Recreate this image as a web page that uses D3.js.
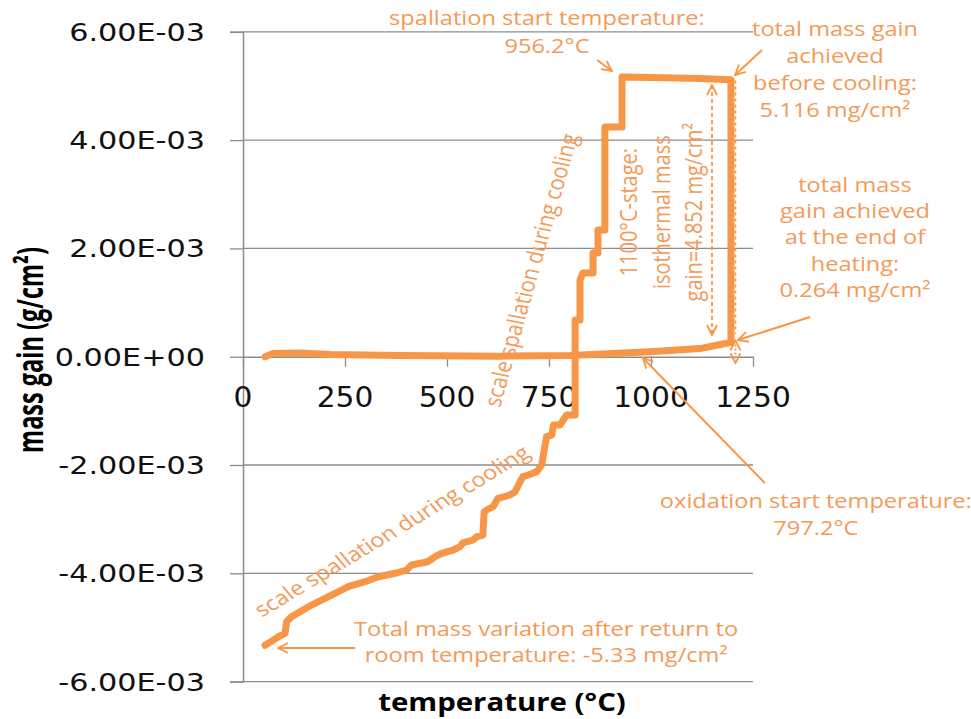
<!DOCTYPE html>
<html>
<head>
<meta charset="utf-8">
<script src="https://cdn.jsdelivr.net/npm/d3@7"></script>
<style>
  html, body { margin: 0; padding: 0; background: #ffffff; }
  svg { display: block; }
</style>
</head>
<body>
<div id="chart"></div>
<script>
// ---------------- data (temperature in °C, mass gain in mg/cm²) ----------------
const heatTemp = [54, 74, 140, 213, 385, 630, 801, 998, 1120, 1176, 1196];
const heatGain = [0, 0.06, 0.07, 0.04, 0.02, 0.01, 0.02, 0.09, 0.15, 0.235, 0.264];

const coolTemp = [1196, 1120, 998, 929, 929, 887, 887, 870, 870, 858,
                  858, 833, 826, 826, 814, 814, 793, 777, 761, 757,
                  744, 732, 720, 699, 686, 679, 667, 654, 625, 613,
                  597, 591, 588, 573, 564, 539, 532, 515, 487, 471,
                  453, 413, 401, 373, 332, 299, 258, 217, 168, 119,
                  107, 103, 87, 62, 54];
const coolGain = [5.116, 5.138, 5.156, 5.165, 4.242, 4.242, 2.340, 2.340, 1.915, 1.915,
                  1.546, 1.546, 1.416, 0.678, 0.678, -1.077, -1.077, -1.261, -1.261, -1.446,
                  -1.477, -2.000, -2.124, -2.185, -2.216, -2.308, -2.493, -2.554, -2.615, -2.770,
                  -2.831, -2.868, -3.293, -3.324, -3.385, -3.440, -3.509, -3.570, -3.631, -3.693,
                  -3.786, -3.847, -3.939, -4.000, -4.063, -4.155, -4.247, -4.401, -4.586, -4.801,
                  -4.894, -5.108, -5.171, -5.293, -5.33];

const xTicks = [0, 250, 500, 750, 1000, 1250];
const xTickLabels = ["0", "250", "500", "750", "1000", "1250"];
const yTicks = [-0.006, -0.004, -0.002, 0, 0.002, 0.004, 0.006];
const yTickLabels = ["-6.00E-03", "-4.00E-03", "-2.00E-03", "0.00E+00", "2.00E-03", "4.00E-03", "6.00E-03"];

// annotation texts (anchored in data units: temperature °C, mg/cm²)
const annSpall = ["spallation start temperature:", "956.2°C"];
const annBefore = ["total mass gain", "achieved", "before cooling:", "5.116 mg/cm²"];
const annIso = ["1100°C-stage:", "isothermal mass", "gain=4.852 mg/cm²"];
const annEndHeat = ["total mass", "gain achieved", "at the end of", "heating:", "0.264 mg/cm²"];
const annOx = ["oxidation start temperature:", "797.2°C"];
const annFinal = ["Total mass variation after return to", "room temperature: -5.33 mg/cm²"];
const annScale = "scale spallation during cooling";

// ---------------- layout ----------------
const W = 971, H = 719;
const ORANGE = "#F79646", TXT = "#F39A58", GRID = "#8c8c8c";
const x = d3.scaleLinear().domain([0, 1250]).range([243, 753]);
const y = d3.scaleLinear().domain([-0.006, 0.006]).range([681.6, 31.8]);
const ym = v => y(v / 1000);   // mg/cm² -> pixel

const svg = d3.select("#chart").append("svg").attr("width", W).attr("height", H);

const defs = svg.append("defs");
defs.append("marker").attr("id", "arr")
  .attr("viewBox", "0 0 12 12").attr("refX", 11).attr("refY", 6)
  .attr("markerWidth", 12).attr("markerHeight", 12)
  .attr("markerUnits", "userSpaceOnUse").attr("orient", "auto-start-reverse")
  .append("path").attr("d", "M1,1 L11,6 L1,11")
  .attr("fill", "none").attr("stroke", ORANGE).attr("stroke-width", 1.8);

// gridlines
svg.append("g").selectAll("line").data(yTicks.filter(d => d !== 0)).join("line")
  .attr("x1", x(0)).attr("x2", x(1250)).attr("y1", d => y(d)).attr("y2", d => y(d))
  .attr("stroke", GRID).attr("stroke-width", 1.3);

// y axis
const yAxis = svg.append("g").attr("transform", `translate(${x(0)},0)`)
  .call(d3.axisLeft(y).tickValues(yTicks).tickSize(13).tickFormat(""));
yAxis.select(".domain").attr("stroke", GRID).attr("stroke-width", 1.5);
yAxis.selectAll(".tick line").attr("stroke", GRID).attr("stroke-width", 1.3);

// x axis at y = 0
const xAxis = svg.append("g").attr("transform", `translate(0,${y(0)})`)
  .call(d3.axisBottom(x).tickValues(xTicks).tickSize(10).tickSizeOuter(0).tickFormat(""));
xAxis.select(".domain").attr("stroke", GRID).attr("stroke-width", 1.5);
xAxis.selectAll(".tick line").attr("stroke", GRID).attr("stroke-width", 1.3);

// tick labels (stretched like the reference)
svg.append("g").selectAll("text").data(yTicks).join("text")
  .attr("transform", d => `translate(205,${y(d)}) scale(1.21,1)`)
  .attr("text-anchor", "end").attr("dy", "0.36em")
  .attr("font-family", "DejaVu Sans").attr("font-size", 25).attr("fill", "#111")
  .text((d, i) => yTickLabels[i]);

svg.append("g").selectAll("text").data(xTicks).join("text")
  .attr("transform", d => `translate(${x(d)},407) scale(1.06,1)`)
  .attr("text-anchor", "middle")
  .attr("font-family", "DejaVu Sans").attr("font-size", 28).attr("fill", "#111")
  .text((d, i) => xTickLabels[i]);

// axis titles
svg.append("text").attr("transform", "translate(502,711) scale(1.2,1)")
  .attr("text-anchor", "middle").attr("font-family", "Open Sans").attr("font-weight", 700)
  .attr("font-size", 24.5).attr("fill", "#000").text("temperature (°C)");
svg.append("text").attr("transform", "translate(43,350) scale(1.5,1) rotate(-90)")
  .attr("text-anchor", "middle").attr("font-family", "Open Sans").attr("font-weight", 700)
  .attr("font-size", 23.5).attr("fill", "#000").text("mass gain (g/cm²)");

// ---------------- data line ----------------
const pts = heatTemp.map((t, i) => [t, heatGain[i]])
  .concat(coolTemp.map((t, i) => [t, coolGain[i]]));
svg.append("path").datum(pts)
  .attr("d", d3.line().x(d => x(d[0])).y(d => ym(d[1])))
  .attr("fill", "none").attr("stroke", ORANGE).attr("stroke-width", 7)
  .attr("stroke-linejoin", "round").attr("stroke-linecap", "round");

// ---------------- annotation lines ----------------
function arrow(t1, v1, t2, v2, opts = {}) {
  const l = svg.append("line")
    .attr("x1", x(t1)).attr("y1", ym(v1)).attr("x2", x(t2)).attr("y2", ym(v2))
    .attr("stroke", ORANGE).attr("stroke-width", opts.w || 2)
    .attr("marker-end", "url(#arr)");
  if (opts.dash) l.attr("stroke-dasharray", opts.dash);
  if (opts.both) l.attr("marker-start", "url(#arr)");
  return l;
}
arrow(868, 5.479, 904, 5.276);
arrow(1272, 5.664, 1206, 5.202);
arrow(1390, 0.733, 1213, 0.308);
arrow(1279, -2.332, 980, -0.024);
arrow(275, -5.38, 86, -5.38);
arrow(1149.5, 5.017, 1149.5, 0.401, { dash: "4,3", both: true, w: 1.8 });
svg.append("line").attr("x1", x(1207)).attr("x2", x(1207)).attr("y1", ym(5.10)).attr("y2", ym(0.42))
  .attr("stroke", ORANGE).attr("stroke-width", 1.6).attr("stroke-dasharray", "3,3");
arrow(1207, 0.30, 1207, -0.12, { both: true, w: 1.8, dash: "2,2" });

// ---------------- annotation texts ----------------
function note(lines, t, v, opts = {}) {
  const rot = opts.rot || 0, sx = opts.sx || 1.18, lh = opts.lh || 27, size = opts.size || 20;
  const g = svg.append("text")
    .attr("transform", `translate(${x(t)},${ym(v)}) scale(${sx},1) rotate(${rot})`)
    .attr("text-anchor", "middle").attr("font-family", "Open Sans")
    .attr("font-size", size).attr("fill", TXT);
  [].concat(lines).forEach((s, i) => {
    g.append("tspan").attr("x", 0).attr("dy", i === 0 ? (opts.dy || 0) : lh).text(s);
  });
  return g;
}
note(annSpall, 745, 6.126, { lh: 27.7 });
note(annBefore, 1451, 5.923);
note(annIso, 966, 2.669, { rot: -90, lh: 27.5 });
note(annEndHeat, 1500, 3.047, { lh: 26.3 });
note(annOx, 1404, -2.794);
note(annFinal, 743, -5.16, { lh: 26 });
note(annScale, 706, 1.596, { rot: -76.3, dy: "0.35em" });
note(annScale, 365, -3.22, { rot: -35.3, dy: "0.35em" });
</script>
</body>
</html>
